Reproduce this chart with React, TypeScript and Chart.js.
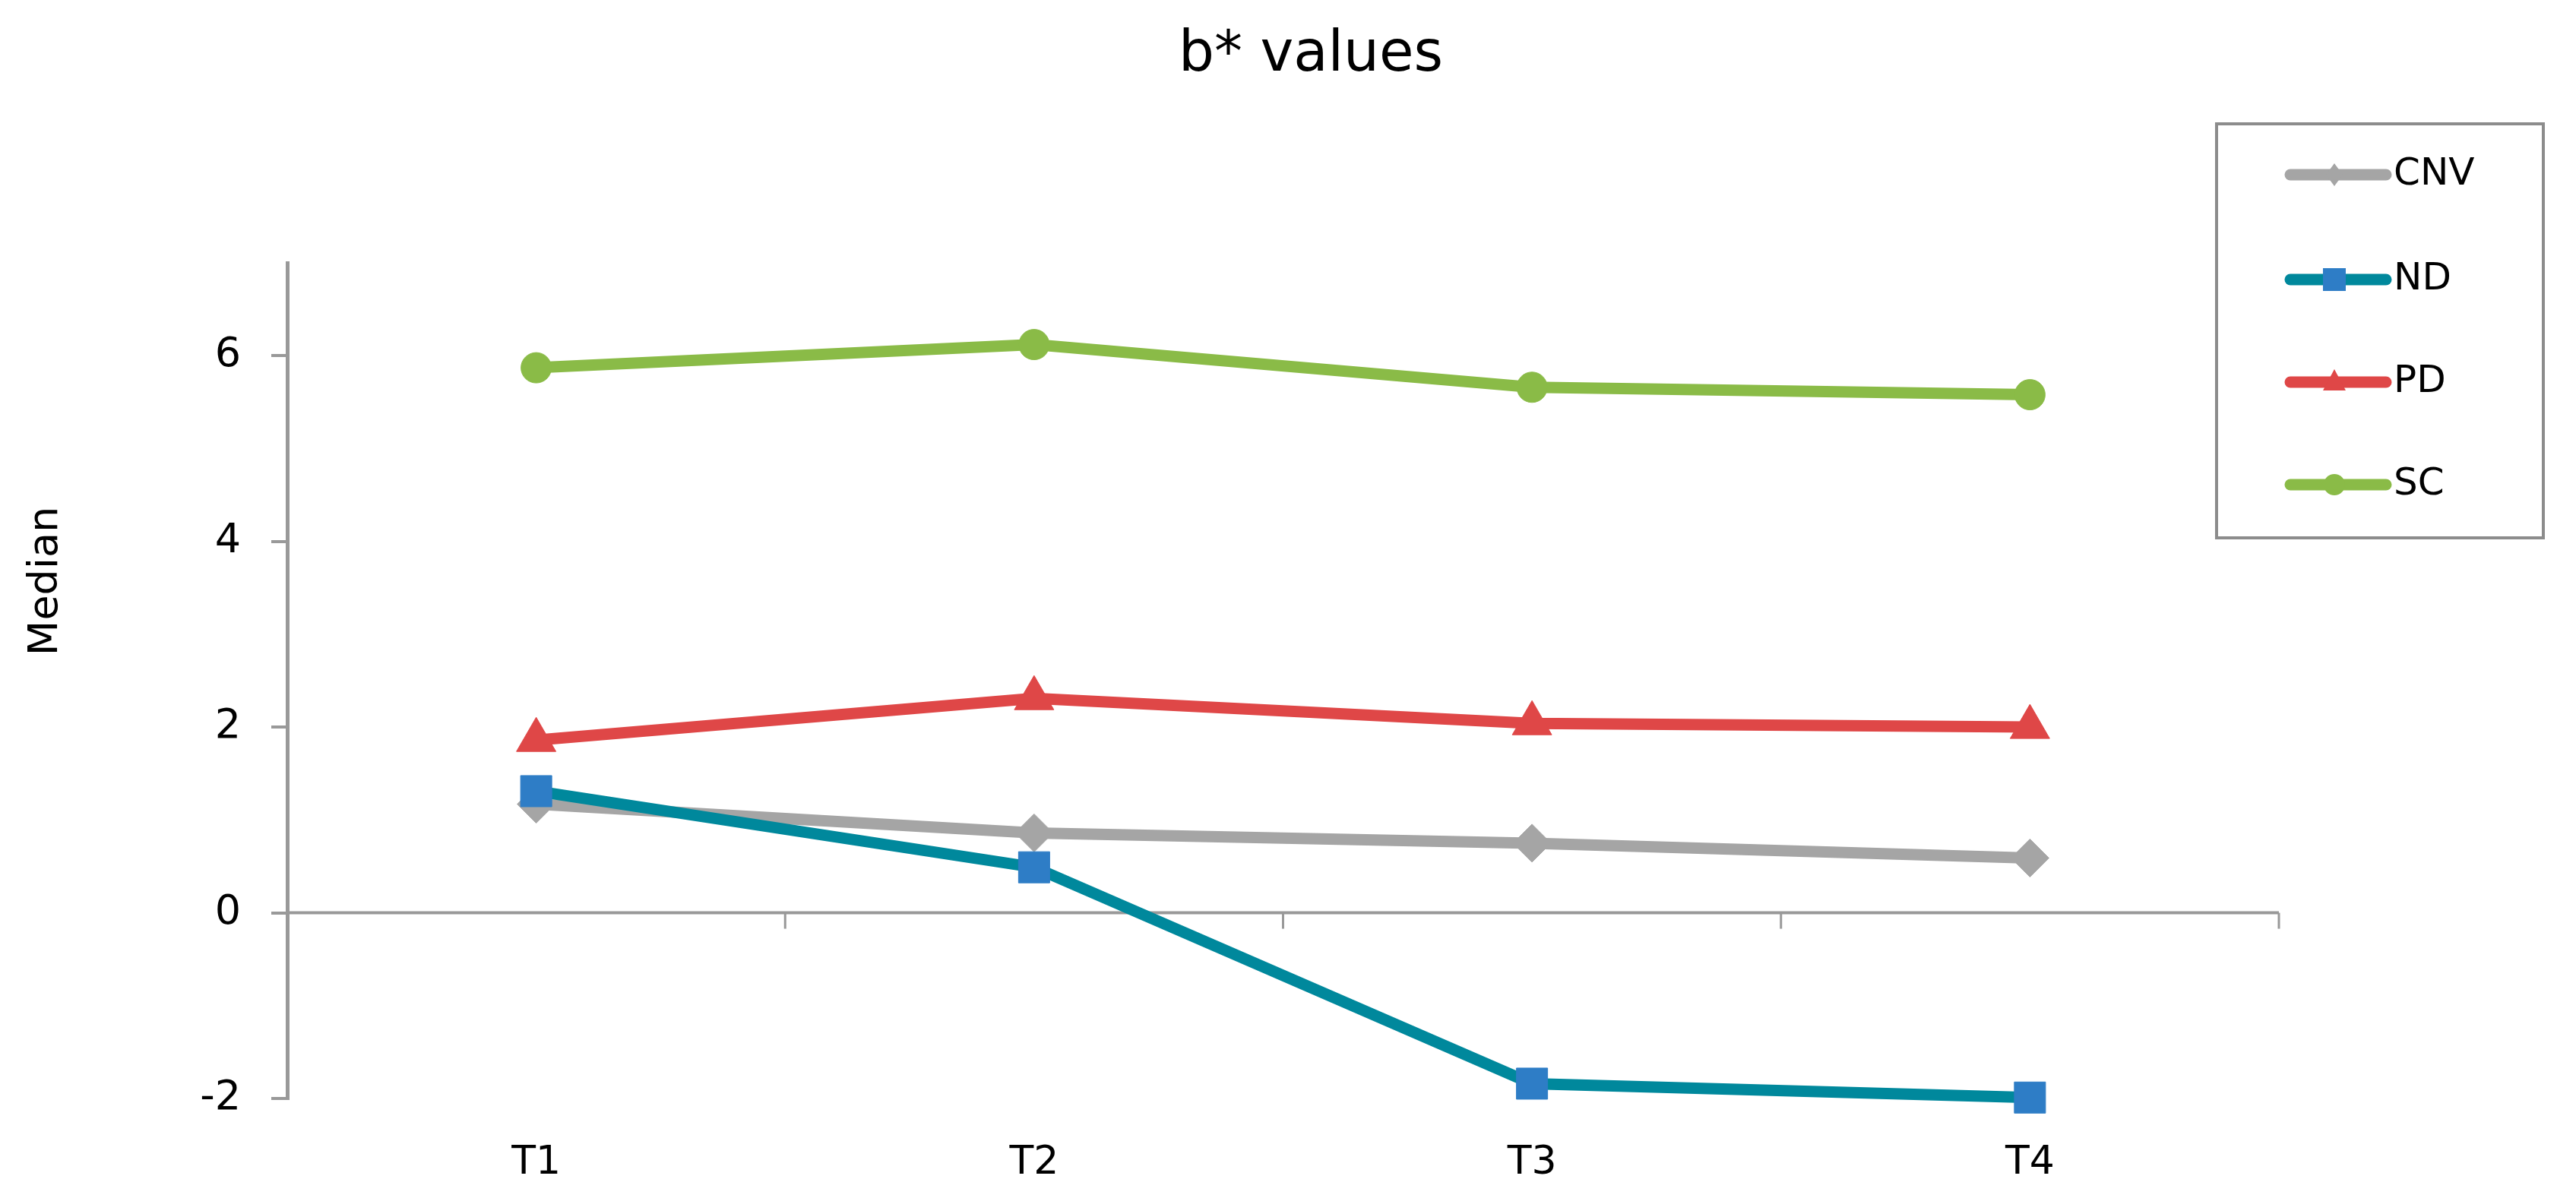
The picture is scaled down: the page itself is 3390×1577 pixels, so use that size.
import React, { useEffect, useRef } from 'react';
import { Chart, registerables } from 'chart.js';

Chart.register(...registerables);

// ---- data ----
const categories = ['T1', 'T2', 'T3', 'T4'];
const seriesNames = ['CNV', 'ND', 'PD', 'SC'];
const cnvValues = [1.17, 0.86, 0.75, 0.59];
const ndValues = [1.31, 0.49, -1.84, -1.99];
const pdValues = [1.86, 2.31, 2.04, 2.0];
const scValues = [5.87, 6.12, 5.66, 5.58];
const yTickValues = [-2, 0, 2, 4, 6];
const titleText = 'b* values';
const yAxisTitle = 'Median';

// ---- styles ----
const FONT = "'DejaVu Sans', Verdana, sans-serif";
const styles = [
  { line: '#A5A5A5', point: '#A5A5A5', pointStyle: 'rectRot', radius: 25, legend: 'diamond' },
  { line: '#00889C', point: '#2E7DC6', pointStyle: 'rect', radius: 29, legend: 'square' },
  { line: '#DF4747', point: '#DF4747', pointStyle: 'triangle', radius: 30, legend: 'triangle' },
  { line: '#8ABB47', point: '#8ABB47', pointStyle: 'circle', radius: 20, legend: 'circle' },
];
const seriesValues = [cnvValues, ndValues, pdValues, scValues];

const decorPlugin = {
  id: 'decor',
  beforeDatasetsDraw(chart: any) {
    const { ctx, chartArea, scales } = chart;
    const y0 = scales.y.getPixelForValue(0);
    ctx.save();
    ctx.strokeStyle = '#999999';
    ctx.lineWidth = 4;
    ctx.beginPath();
    ctx.moveTo(chartArea.left, y0);
    ctx.lineTo(chartArea.right, y0);
    ctx.stroke();
    const n = categories.length;
    const w = (chartArea.right - chartArea.left) / n;
    ctx.lineWidth = 3;
    for (let i = 1; i <= n; i++) {
      const x = chartArea.left + i * w;
      ctx.beginPath();
      ctx.moveTo(x, y0);
      ctx.lineTo(x, y0 + 21);
      ctx.stroke();
    }
    ctx.restore();
  },
  afterDraw(chart: any) {
    const { ctx } = chart;
    ctx.save();
    // title
    ctx.fillStyle = '#000';
    ctx.font = `74px ${FONT}`;
    ctx.textAlign = 'center';
    ctx.textBaseline = 'alphabetic';
    ctx.fillText(titleText, 1725, 93);
    // y axis title
    ctx.save();
    ctx.translate(61, 765);
    ctx.rotate(-Math.PI / 2);
    ctx.font = `54px ${FONT}`;
    ctx.textAlign = 'center';
    ctx.textBaseline = 'middle';
    ctx.fillText(yAxisTitle, 0, 0);
    ctx.restore();
    // legend box
    ctx.strokeStyle = '#8c8c8c';
    ctx.lineWidth = 4;
    ctx.strokeRect(2917, 163, 430, 545);
    const itemY = [230, 368, 503, 638];
    seriesNames.forEach((name, i) => {
      const s = styles[i];
      const y = itemY[i];
      ctx.strokeStyle = s.line;
      ctx.lineWidth = 15;
      ctx.lineCap = 'round';
      ctx.beginPath();
      ctx.moveTo(3014, y);
      ctx.lineTo(3140, y);
      ctx.stroke();
      const cx = 3072;
      ctx.fillStyle = s.point;
      ctx.beginPath();
      if (s.legend === 'diamond') {
        ctx.moveTo(cx, y - 15);
        ctx.lineTo(cx + 11, y);
        ctx.lineTo(cx, y + 15);
        ctx.lineTo(cx - 11, y);
        ctx.closePath();
      } else if (s.legend === 'square') {
        ctx.rect(cx - 15, y - 15, 30, 30);
      } else if (s.legend === 'triangle') {
        ctx.moveTo(cx, y - 17);
        ctx.lineTo(cx + 15, y + 11);
        ctx.lineTo(cx - 15, y + 11);
        ctx.closePath();
      } else {
        ctx.arc(cx, y, 14, 0, Math.PI * 2);
      }
      ctx.fill();
      ctx.fillStyle = '#000';
      ctx.font = `50px ${FONT}`;
      ctx.textAlign = 'left';
      ctx.textBaseline = 'middle';
      ctx.fillText(name, 3150, y);
    });
    ctx.restore();
  },
};

export default function App() {
  const canvasRef = useRef<HTMLCanvasElement | null>(null);

  useEffect(() => {
    if (!canvasRef.current) return;
    const chart = new Chart(canvasRef.current, {
      type: 'line',
      data: {
        labels: categories,
        datasets: seriesNames.map((name, i) => ({
          label: name,
          data: seriesValues[i],
          borderColor: styles[i].line,
          backgroundColor: styles[i].point,
          borderWidth: 15,
          tension: 0,
          clip: false as any,
          pointStyle: styles[i].pointStyle as any,
          pointRadius: styles[i].radius,
          pointHoverRadius: styles[i].radius,
          pointBackgroundColor: styles[i].point,
          pointBorderColor: styles[i].point,
          pointBorderWidth: 1,
          order: seriesNames.length - i,
          fill: false,
        })),
      },
      options: {
        responsive: false,
        animation: false,
        devicePixelRatio: 1,
        layout: { padding: { top: 346, right: 391, bottom: 0, left: 0 } },
        plugins: {
          legend: { display: false },
          title: { display: false },
          tooltip: { enabled: false },
        },
        scales: {
          x: {
            type: 'category',
            offset: true,
            grid: { display: false, drawTicks: false },
            border: { display: false },
            ticks: {
              color: '#000',
              font: { family: FONT, size: 52 },
              padding: 54,
              maxRotation: 0,
            },
            afterFit(scale: any) {
              scale.height = 131;
            },
          },
          y: {
            type: 'linear',
            min: -2,
            max: 7,
            grid: {
              display: true,
              drawOnChartArea: false,
              drawTicks: true,
              tickLength: 21,
              color: '#999999',
              lineWidth: 4,
            },
            border: { display: true, color: '#999999', width: 5 },
            ticks: {
              color: '#000',
              font: { family: FONT, size: 54 },
              padding: 40,
            },
            afterBuildTicks(scale: any) {
              scale.ticks = yTickValues.map((v) => ({ value: v }));
            },
            afterFit(scale: any) {
              scale.width = 378;
            },
          },
        },
      },
      plugins: [decorPlugin],
    });
    return () => chart.destroy();
  }, []);

  return (
    <canvas
      ref={canvasRef}
      width={3390}
      height={1577}
      style={{ position: 'absolute', left: 0, top: 0, width: 3390, height: 1577, display: 'block', background: '#fff' }}
    />
  );
}
